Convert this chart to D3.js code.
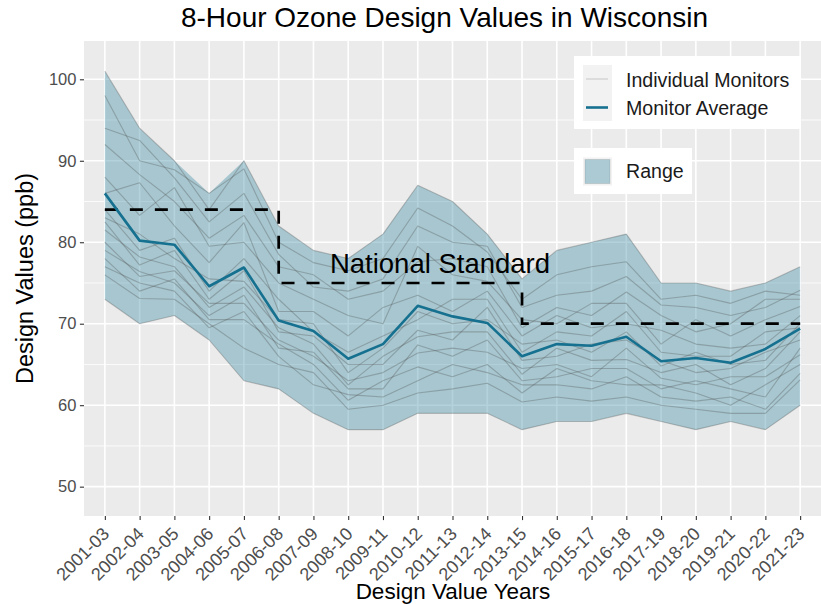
<!DOCTYPE html>
<html><head><meta charset="utf-8">
<script src="https://cdn.jsdelivr.net/npm/d3@7"></script>
<style>
html,body{margin:0;padding:0;background:#fff;}
svg{display:block;}
text{font-family:"Liberation Sans",Arial,"Helvetica",sans-serif;}
</style>
</head><body>
<svg id="chart" width="821" height="604"></svg>
<script>
// ---------------- DATA ----------------
const years = ["2001-03","2002-04","2003-05","2004-06","2005-07","2006-08","2007-09","2008-10","2009-11","2010-12","2011-13","2012-14","2013-15","2014-16","2015-17","2016-18","2017-19","2018-20","2019-21","2020-22","2021-23"];
const monitorAverage = [86, 80.2, 79.7, 74.6, 76.9, 70.4, 69.1, 65.7, 67.5, 72.2, 70.9, 70.1, 66, 67.5, 67.3, 68.4, 65.4, 65.8, 65.2, 66.9, 69.4];
const nationalStandard = [84,84,84,84,84,75,75,75,75,75,75,75,70,70,70,70,70,70,70,70,70];
const monitor01 = [101,94,90,84,90,82,79,78,81,87,85,81,75.5,79,80,81,75,75,74,75,77];
const monitor02 = [98,90,88.9,86,89,80,77.5,76.5,78,84.2,82,78.8,73,76,77,77.6,73,73.5,72.5,74,73.5];
const monitor03 = [94,92.5,87.9,82.5,86,78.5,74.5,74,75.5,82,80,79.5,72,73.5,74,75.8,72.3,72,71,72,74.1];
const monitor04 = [92,88.3,85,80.5,83.3,77,76,73,74,77.6,78,77,69.5,72,71,73.9,71,69,70,73,73];
const monitor05 = [88,83.3,86.7,79.5,80,75,73,71,70,79.5,76,75.2,70.5,70,72.5,72.5,67.5,70.5,68.5,70.5,72.1];
const monitor06 = [86,87.3,82,77.5,82.4,71.5,71.5,68.5,72,73.5,71.5,74,68.5,71,69.5,70,69.2,67.5,67,67.5,71];
const monitor07 = [84,79,80.5,74,78,73,69,66.5,68.5,70.5,73,73,66.5,69,68.5,71.5,66.5,66,66,69,69.5];
const monitor08 = [83,81,78,75.5,75.2,70.5,70,64,67,71.5,70,70.5,67.5,68,66.5,69,64.8,66.5,65,65.5,70];
const monitor09 = [82.5,77.2,79,73,76.5,69,68.5,65,65,69.2,68,72,65.5,66,67.5,68,65.5,64,64.5,66.5,68];
const monitor10 = [81.5,78.2,77,72,74.5,69.5,67.5,62.5,66,68.4,69,69,63.8,67,65.5,65.6,64,65,62.5,64.5,69];
const monitor11 = [80,75.8,76.5,72.5,72.5,68,66,63,64,66.4,67,66.5,64.5,65,63.5,67,63.3,62.5,63.5,63.5,66.2];
const monitor12 = [79,76.4,75,71,73.5,67,66.5,62,62,67.4,66,68,63,63.5,64.5,64.5,62,63,62,61,67];
const monitor13 = [78,74,75.5,70.5,70.5,67.5,65,60.6,63,64.7,63.5,65,61.5,64.5,63,62.5,62.5,61.5,60,62.5,65];
const monitor14 = [77,75,74,69.5,71.5,66,62.5,61.3,61,63,65,64,62.5,62.5,62,63.5,61,60.5,61,59.5,63.9];
const monitor15 = [76,73.1,73,70,67,65,64,59.5,60,61.5,62,62.7,60.4,61,60.5,61,60,59.5,59,59,63.1];
const monitor16 = [73,70,71,68,63,62,59,57,57,59,59,59,57,58,58,59,58,57,58,57,60];
const monitors = [monitor01,monitor02,monitor03,monitor04,monitor05,monitor06,monitor07,monitor08,
                  monitor09,monitor10,monitor11,monitor12,monitor13,monitor14,monitor15,monitor16];
const yTicks = [50,60,70,80,90,100];
const yMinorTicks = [55,65,75,85,95];
const titleText = "8-Hour Ozone Design Values in Wisconsin";
const xTitle = "Design Value Years";
const yTitle = "Design Values (ppb)";
const standardLabel = "National Standard";
const legendLines = ["Individual Monitors","Monitor Average"];
const legendFill = "Range";

// ---------------- LAYOUT ----------------
const W = 821, H = 604;
const px0 = 84, px1 = 821, py0 = 41, py1 = 516;
const bandColor = "#4A93AA", avgColor = "#16708F";

const x = d3.scalePoint().domain(years).range([px0, px1]).padding(0.6);
const y = d3.scaleLinear().domain([46.4, 104.7]).range([py1, py0]);

const svg = d3.select("#chart");
svg.append("rect").attr("width", W).attr("height", H).attr("fill", "#fff");
svg.append("rect").attr("x", px0).attr("y", py0).attr("width", px1 - px0).attr("height", py1 - py0).attr("fill", "#EBEBEB");

svg.append("clipPath").attr("id", "clip").append("rect")
  .attr("x", px0).attr("y", py0).attr("width", px1 - px0).attr("height", py1 - py0);
const g = svg.append("g").attr("clip-path", "url(#clip)");

// grid
g.selectAll("line.minor").data(yMinorTicks).join("line").attr("class","minor")
  .attr("x1", px0).attr("x2", px1).attr("y1", d => y(d)).attr("y2", d => y(d))
  .attr("stroke", "#fff").attr("stroke-width", 0.8);
g.selectAll("line.majory").data(yTicks).join("line").attr("class","majory")
  .attr("x1", px0).attr("x2", px1).attr("y1", d => y(d)).attr("y2", d => y(d))
  .attr("stroke", "#fff").attr("stroke-width", 1.6);
g.selectAll("line.majorx").data(years).join("line").attr("class","majorx")
  .attr("x1", d => x(d)).attr("x2", d => x(d)).attr("y1", py0).attr("y2", py1)
  .attr("stroke", "#fff").attr("stroke-width", 1.6);

// range band (envelope of monitors)
const rangeData = years.map((yr, i) => ({
  yr, lo: d3.min(monitors, m => m[i]), hi: d3.max(monitors, m => m[i])
}));
g.append("path").datum(rangeData)
  .attr("d", d3.area().x(d => x(d.yr)).y0(d => y(d.lo)).y1(d => y(d.hi)))
  .attr("fill", bandColor).attr("fill-opacity", 0.42);

// individual monitors
const line = d3.line().x((d, i) => x(years[i])).y(d => y(d));
g.selectAll("path.mon").data(monitors).join("path").attr("class","mon")
  .attr("d", line).attr("fill", "none")
  .attr("stroke", "#4D4D4D").attr("stroke-opacity", 0.32).attr("stroke-width", 1.1)
  .attr("stroke-linejoin", "round");

// standard (dashed step)
g.append("path").datum(nationalStandard)
  .attr("d", d3.line().curve(d3.curveStepAfter).x((d, i) => x(years[i])).y(d => y(d)))
  .attr("fill", "none").attr("stroke", "#000").attr("stroke-width", 2.7)
  .attr("stroke-dasharray", "13 12");

// average
g.append("path").datum(monitorAverage)
  .attr("d", line).attr("fill", "none").attr("stroke", avgColor)
  .attr("stroke-width", 2.6).attr("stroke-linejoin", "round");

// annotation
const step = x.step();
g.append("text")
  .attr("x", x(years[9]) + 0.64 * step).attr("y", y(76.2))
  .attr("text-anchor", "middle").attr("font-size", "27.5px").attr("fill", "#000")
  .text(standardLabel);

// axes
const yAxis = svg.append("g").attr("transform", `translate(${px0},0)`)
  .call(d3.axisLeft(y).tickValues(yTicks).tickSize(4.1).tickPadding(3.5).tickFormat(d3.format("d")));
yAxis.select(".domain").remove();
yAxis.selectAll(".tick line").attr("stroke", "#333").attr("stroke-width", 1.1);
yAxis.selectAll(".tick text").attr("fill", "#4D4D4D").attr("font-size", "16.5px")
  .style("font-family", '"Liberation Sans",Arial,sans-serif');

const xAxis = svg.append("g").attr("transform", `translate(0,${py1})`)
  .call(d3.axisBottom(x).tickSize(4.1));
xAxis.select(".domain").remove();
xAxis.selectAll(".tick line").attr("stroke", "#333").attr("stroke-width", 1.1);
xAxis.selectAll(".tick text")
  .attr("x", 0).attr("y", 0).attr("dy", "0.71em")
  .attr("transform", "translate(-4,10) rotate(-45)")
  .style("text-anchor", "end")
  .attr("fill", "#4D4D4D").attr("font-size", "18px")
  .style("font-family", '"Liberation Sans",Arial,sans-serif');

// titles
svg.append("text").attr("x", 444.5).attr("y", 26.5).attr("text-anchor", "middle")
  .attr("font-size", "28px").attr("fill", "#000").text(titleText);
svg.append("text").attr("x", 453).attr("y", 599).attr("text-anchor", "middle")
  .attr("font-size", "22.5px").attr("fill", "#000").text(xTitle);
svg.append("text").attr("transform", `translate(33,${(py0 + py1) / 2}) rotate(-90)`)
  .attr("text-anchor", "middle").attr("font-size", "23.5px").attr("fill", "#000").text(yTitle);

// legend 1
const lg = svg.append("g");
lg.append("rect").attr("x", 574).attr("y", 56).attr("width", 227).attr("height", 73).attr("fill", "#fff");
lg.append("rect").attr("x", 583).attr("y", 65).attr("width", 29).attr("height", 56).attr("fill", "#F2F2F2");
lg.append("line").attr("x1", 586).attr("x2", 608).attr("y1", 79).attr("y2", 79)
  .attr("stroke", "#4D4D4D").attr("stroke-opacity", 0.22).attr("stroke-width", 1.2);
lg.append("line").attr("x1", 586).attr("x2", 608).attr("y1", 107.5).attr("y2", 107.5)
  .attr("stroke", avgColor).attr("stroke-width", 2.6);
lg.selectAll("text.l1").data(legendLines).join("text").attr("class","l1")
  .attr("x", 626).attr("y", (d, i) => 86.5 + i * 28.3)
  .attr("font-size", "19.6px").attr("fill", "#1A1A1A").text(d => d);

// legend 2
lg.append("rect").attr("x", 574).attr("y", 148).attr("width", 118).attr("height", 46).attr("fill", "#fff");
lg.append("rect").attr("x", 583).attr("y", 157.5).attr("width", 29).attr("height", 28).attr("fill", "#F2F2F2");
lg.append("rect").attr("x", 585).attr("y", 159.5).attr("width", 25).attr("height", 24)
  .attr("fill", bandColor).attr("fill-opacity", 0.42)
  .attr("stroke", "#4D4D4D").attr("stroke-opacity", 0.15).attr("stroke-width", 1);
lg.append("text").attr("x", 626).attr("y", 178.3).attr("font-size", "19.6px").attr("fill", "#1A1A1A").text(legendFill);
</script>
</body></html>
